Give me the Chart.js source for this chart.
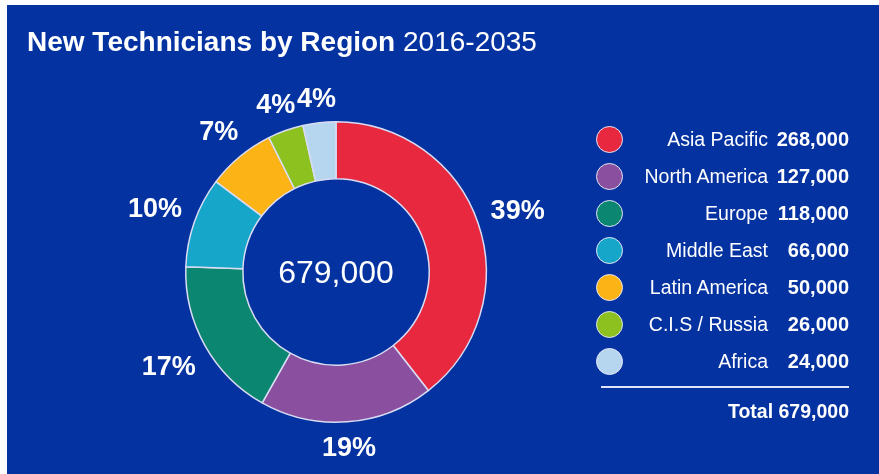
<!DOCTYPE html>
<html lang="en">
<head>
    <meta charset="UTF-8">
    <title>New Technicians by Region</title>
    <script src="https://cdn.jsdelivr.net/npm/chart.js"></script>
    <style>
        html, body { margin: 0; padding: 0; background: #fff; }
        body { width: 879px; height: 474px; position: relative; overflow: hidden;
               font-family: "Liberation Sans", Arial, sans-serif; color: #fff; }
        #panel { position: absolute; left: 7px; top: 5px; right: 0; bottom: 0; background: #0432a0; }
        #chart { position: absolute; left: 0; top: 0; }
        h1 { position: absolute; left: 27px; top: 27px; margin: 0; font-size: 28px; line-height: 30px;
             font-weight: bold; white-space: nowrap; }
        h1 span { font-weight: normal; }
        #total { position: absolute; left: 266px; top: 254px; width: 140px; text-align: center;
                 font-size: 32px; line-height: 36px; }
        .row { position: absolute; left: 596px; width: 253px; height: 30px; }
        .dot { position: absolute; left: 0; top: 1px; width: 25px; height: 25px; border-radius: 50%;
               border: 1.5px solid #e4e6f6; }
        .lbl { position: absolute; right: 81px; top: 3px; font-size: 19.5px; line-height: 22px; white-space: nowrap; }
        .val { position: absolute; right: 0; top: 3px; font-size: 20px; line-height: 22px; font-weight: bold; }
        #rule { position: absolute; left: 601px; top: 386px; width: 248px; height: 2px; background: #dfe3f7; }
        #sum { position: absolute; right: 30px; top: 400px; font-size: 19.5px; line-height: 22px; font-weight: bold; }
    </style>
</head>
<body>
    <div id="panel"></div>
    <canvas id="chart" width="879" height="474"></canvas>
    <h1>New Technicians by Region <span>2016-2035</span></h1>
    <div id="total"></div>
    <div id="legend"></div>
    <div id="rule"></div>
    <div id="sum"></div>
    <script>
        var regions = ['Asia Pacific', 'North America', 'Europe', 'Middle East', 'Latin America', 'C.I.S / Russia', 'Africa'];
        var technicians = [268000, 127000, 118000, 66000, 50000, 26000, 24000];
        var colors = ['#e8283f', '#8a4f9f', '#0b8670', '#16a6c9', '#fbb316', '#8cc11f', '#b6d5ef'];

        var total = technicians.reduce(function(a, b) { return a + b; }, 0);
        var fmt = function(v) { return v.toLocaleString('en-US'); };

        document.getElementById('total').textContent = fmt(total);
        document.getElementById('sum').textContent = 'Total ' + fmt(total);

        // legend rows: dot, region name, value
        var legend = document.getElementById('legend');
        regions.forEach(function(name, i) {
            var row = document.createElement('div');
            row.className = 'row';
            row.style.top = (125 + i * 37) + 'px';
            row.innerHTML = '<div class="dot" style="background:' + colors[i] + '"></div>' +
                '<div class="lbl">' + name + '</div><div class="val">' + fmt(technicians[i]) + '</div>';
            legend.appendChild(row);
        });

        // percentage labels outside each slice
        var outerLabels = {
            id: 'outerLabels',
            afterDatasetsDraw: function(chart) {
                var ctx = chart.ctx;
                var meta = chart.getDatasetMeta(0);
                ctx.save();
                ctx.font = 'bold 27px "Liberation Sans", Arial, sans-serif';
                ctx.fillStyle = '#ffffff';
                ctx.textAlign = 'center';
                ctx.textBaseline = 'middle';
                meta.data.forEach(function(arc, i) {
                    var p = arc.getProps(['x', 'y', 'startAngle', 'endAngle', 'outerRadius'], true);
                    var mid = (p.startAngle + p.endAngle) / 2;
                    var text = Math.round(technicians[i] / total * 100) + '%';
                    var halfW = ctx.measureText(text).width / 2;
                    var c = Math.cos(mid), s = Math.sin(mid);
                    var r = p.outerRadius + 13 + Math.abs(c) * halfW + Math.abs(s) * 10;
                    ctx.fillText(text, p.x + c * r, p.y + s * r + 2);
                });
                ctx.restore();
            }
        };

        new Chart(document.getElementById('chart'), {
            type: 'doughnut',
            data: {
                labels: regions,
                datasets: [{
                    data: technicians,
                    backgroundColor: colors,
                    borderColor: '#d9dcf3',
                    borderWidth: 1.5
                }]
            },
            options: {
                responsive: false,
                animation: false,
                cutout: '62%',
                layout: { padding: { left: 185, right: 392, top: 121, bottom: 51 } },
                plugins: { legend: { display: false }, tooltip: { enabled: false } }
            },
            plugins: [outerLabels]
        });
    </script>
</body>
</html>
